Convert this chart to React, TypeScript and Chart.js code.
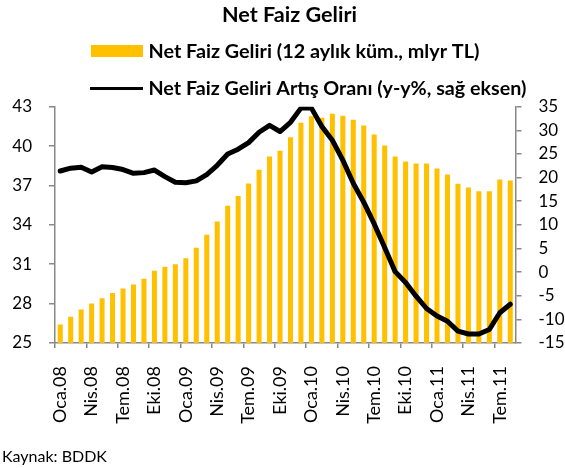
import React, { useEffect, useRef } from 'react';
import { Chart, registerables } from 'chart.js';

Chart.register(...registerables);

const categories = [
  'Oca.08', 'Şub.08', 'Mar.08', 'Nis.08', 'May.08', 'Haz.08', 'Tem.08', 'Ağu.08', 'Eyl.08', 'Eki.08', 'Kas.08', 'Ara.08',
  'Oca.09', 'Şub.09', 'Mar.09', 'Nis.09', 'May.09', 'Haz.09', 'Tem.09', 'Ağu.09', 'Eyl.09', 'Eki.09', 'Kas.09', 'Ara.09',
  'Oca.10', 'Şub.10', 'Mar.10', 'Nis.10', 'May.10', 'Haz.10', 'Tem.10', 'Ağu.10', 'Eyl.10', 'Eki.10', 'Kas.10', 'Ara.10',
  'Oca.11', 'Şub.11', 'Mar.11', 'Nis.11', 'May.11', 'Haz.11', 'Tem.11', 'Ağu.11',
];

// Net Faiz Geliri (12 aylık kümülatif, mlyr TL) - left axis
const netFaizGeliri = [
  26.4, 27.0, 27.55, 28.0, 28.4, 28.8, 29.15, 29.45, 29.9, 30.5, 30.8, 31.0,
  31.45, 32.25, 33.25, 34.25, 35.45, 36.2, 37.15, 38.2, 39.2, 39.65, 40.67, 41.78,
  42.28, 42.16, 42.47, 42.32, 42.0, 41.57, 40.88, 40.04, 39.2, 38.83, 38.68, 38.68,
  38.3, 37.84, 37.14, 36.84, 36.55, 36.55, 37.45, 37.38,
];

// Net Faiz Geliri Artış Oranı (y-y %) - right axis
const artisOrani = [
  21.4, 22.0, 22.2, 21.2, 22.3, 22.15, 21.7, 20.9, 21.05, 21.6, 20.2, 19.0,
  18.9, 19.3, 20.65, 22.6, 25.0, 26.0, 27.4, 29.6, 31.05, 29.75, 31.7, 34.7,
  34.7, 30.8, 27.9, 23.7, 18.8, 14.8, 10.2, 5.2, 0.1, -2.2, -5.1, -7.7,
  -9.3, -10.4, -12.5, -13.1, -13.1, -12.15, -8.6, -6.8,
];

const leftAxisTicks = [25, 28, 31, 34, 37, 40, 43];
const rightAxisTicks = [-15, -10, -5, 0, 5, 10, 15, 20, 25, 30, 35];

const chartTitle = 'Net Faiz Geliri';
const barLabel = 'Net Faiz Geliri (12 aylık küm., mlyr TL)';
const lineLabel = 'Net Faiz Geliri Artış Oranı (y-y%, sağ eksen)';
const sourceNote = 'Kaynak: BDDK';

const BAR_COLOR = '#FFC000';
const LINE_COLOR = '#000000';
const AXIS_COLOR = '#888888';
const FONT = 'Lato, "DejaVu Sans", sans-serif';

// pick a bold font size so the text spans the given width
function fitFont(ctx: CanvasRenderingContext2D, text: string, width: number, weight: string) {
  ctx.font = `${weight} 20px ${FONT}`;
  const w = ctx.measureText(text).width;
  const size = (20 * width) / w;
  ctx.font = `${weight} ${size.toFixed(2)}px ${FONT}`;
}

const decorPlugin = {
  id: 'decor',
  afterDraw(chart: any) {
    const ctx = chart.ctx as CanvasRenderingContext2D;
    ctx.save();
    ctx.fillStyle = '#000';
    ctx.textBaseline = 'middle';
    // title
    fitFont(ctx, chartTitle, 135, 'bold');
    ctx.textAlign = 'left';
    ctx.fillText(chartTitle, 222, 15.5);
    // legend
    const ds = chart.data.datasets;
    ctx.fillStyle = ds[0].backgroundColor;
    ctx.fillRect(91, 45, 52, 12);
    ctx.fillStyle = '#000';
    fitFont(ctx, ds[0].label, 331, 'bold');
    ctx.fillText(ds[0].label, 148.5, 51.5);
    ctx.strokeStyle = ds[1].borderColor;
    ctx.lineWidth = 3;
    ctx.beginPath();
    ctx.moveTo(90, 88.5);
    ctx.lineTo(143, 88.5);
    ctx.stroke();
    fitFont(ctx, ds[1].label, 378, 'bold');
    ctx.fillText(ds[1].label, 148.5, 88.5);
    // source
    ctx.font = `16px ${FONT}`;
    ctx.fillText(sourceNote, 2, 457);
    ctx.restore();
  },
};

export default function App() {
  const canvasRef = useRef<HTMLCanvasElement | null>(null);

  useEffect(() => {
    const canvas = canvasRef.current;
    if (!canvas) return;
    const chart = new Chart(canvas, {
      type: 'bar',
      data: {
        labels: categories,
        datasets: [
          {
            type: 'bar',
            label: barLabel,
            data: netFaizGeliri,
            backgroundColor: BAR_COLOR,
            borderWidth: 0,
            barPercentage: 0.48,
            categoryPercentage: 1,
            yAxisID: 'y',
            order: 2,
          },
          {
            type: 'line',
            label: lineLabel,
            data: artisOrani,
            borderColor: LINE_COLOR,
            backgroundColor: LINE_COLOR,
            borderWidth: 5,
            pointRadius: 0,
            pointHoverRadius: 0,
            tension: 0,
            borderJoinStyle: 'round',
            borderCapStyle: 'round',
            yAxisID: 'y1',
            order: 1,
          },
        ],
      },
      options: {
        responsive: false,
        animation: false,
        layout: { padding: { top: 106.7, left: 0, right: 0, bottom: 0 } },
        plugins: {
          legend: { display: false },
          title: { display: false },
          tooltip: { enabled: false },
        },
        scales: {
          x: {
            type: 'category',
            offset: true,
            grid: {
              offset: true,
              drawOnChartArea: false,
              drawTicks: true,
              tickLength: 5,
              lineWidth: 1.5,
              color: (c: any) => (c.index !== undefined && c.index % 3 === 0 ? AXIS_COLOR : 'rgba(0,0,0,0)'),
            },
            border: { display: true, color: AXIS_COLOR, width: 1.5 },
            ticks: {
              autoSkip: false,
              minRotation: 90,
              maxRotation: 90,
              padding: 18,
              color: '#000',
              font: { family: FONT, size: 18 },
              callback: (_v: any, i: number) => (i % 3 === 0 ? categories[i] : ''),
            },
            afterFit: (s: any) => { s.height = 468 - 343; },
          },
          y: {
            position: 'left',
            min: leftAxisTicks[0],
            max: leftAxisTicks[leftAxisTicks.length - 1],
            afterBuildTicks: (s: any) => { s.ticks = leftAxisTicks.map((v) => ({ value: v })); },
            grid: { drawOnChartArea: false, drawTicks: true, tickLength: 6, lineWidth: 1.5, color: AXIS_COLOR },
            border: { display: true, color: AXIS_COLOR, width: 1.5 },
            ticks: { padding: 17, color: '#000', font: { family: FONT, size: 17 } },
            afterFit: (s: any) => { s.width = 55; },
          },
          y1: {
            position: 'right',
            min: rightAxisTicks[0],
            max: rightAxisTicks[rightAxisTicks.length - 1],
            afterBuildTicks: (s: any) => { s.ticks = rightAxisTicks.map((v) => ({ value: v })); },
            grid: { drawOnChartArea: false, drawTicks: true, tickLength: 6, lineWidth: 1.5, color: AXIS_COLOR },
            border: { display: true, color: AXIS_COLOR, width: 1.5 },
            ticks: { padding: 17, color: '#000', font: { family: FONT, size: 17 } },
            afterFit: (s: any) => { s.width = 49.5; },
          },
        },
      },
      plugins: [decorPlugin],
    });
    return () => chart.destroy();
  }, []);

  return (
    <canvas
      ref={canvasRef}
      width={565}
      height={468}
      style={{ position: 'absolute', left: 0, top: 0, display: 'block', width: 565, height: 468, background: '#fff' }}
    />
  );
}
